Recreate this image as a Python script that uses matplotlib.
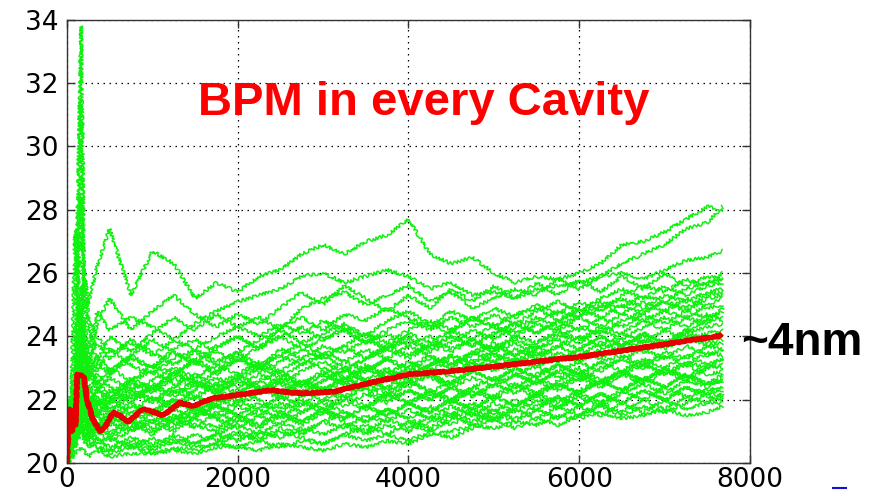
import matplotlib
matplotlib.use("Agg")
import matplotlib.pyplot as plt
from matplotlib.lines import Line2D

# turn index of each sample
turns = [0, 50, 95, 165, 200, 250, 350, 500, 750, 1000, 1250, 1500, 1750, 2000,
         2250, 2500, 2750, 3000, 3250, 3500, 3750, 4000, 4250, 4500, 4750, 5000,
         5250, 5500, 5750, 6000, 6250, 6500, 6750, 7000, 7250, 7500, 7680]

# one trace per seed
seed_01 = [20.0, 21.2, 22.6, 24.8, 26.1, 25.0, 26.2, 27.4, 25.3, 26.7, 26.3, 25.2, 25.7, 25.4, 25.9, 26.1, 26.6, 26.9, 26.6, 27.0, 27.2, 27.7, 26.6, 26.3, 26.5, 26.0, 25.7, 25.9, 25.8, 26.0, 26.3, 26.9, 27.0, 27.3, 27.7, 28.1, 28.0]
seed_02 = [20.9, 21.6, 22.0, 23.4, 24.2, 23.6, 24.8, 24.2, 24.6, 24.3, 23.9, 24.4, 24.8, 25.1, 25.3, 25.5, 25.9, 26.0, 25.7, 25.9, 26.1, 25.9, 25.5, 25.7, 25.3, 25.4, 25.2, 25.5, 25.6, 25.7, 25.9, 26.3, 26.6, 26.9, 27.4, 27.6, 28.1]
seed_03 = [20.0, 22.0, 23.5, 33.8, 26.0, 24.6, 24.0, 23.5, 23.8, 23.4, 23.9, 23.6, 24.0, 24.3, 24.6, 24.2, 24.9, 25.2, 25.4, 25.0, 25.3, 25.6, 25.1, 25.4, 24.9, 25.2, 25.5, 25.3, 25.8, 25.5, 25.9, 26.0, 25.8, 26.1, 26.4, 26.5, 26.7]
seed_04 = [20.0, 20.8, 21.9, 31.5, 25.2, 24.3, 23.2, 22.8, 23.4, 23.9, 23.5, 23.2, 23.7, 24.0, 23.6, 24.3, 24.6, 24.2, 24.7, 24.5, 24.9, 24.6, 24.3, 24.8, 24.5, 24.9, 24.6, 25.0, 24.7, 25.1, 24.8, 25.3, 25.6, 25.4, 25.8, 25.6, 26.0]
seed_05 = [20.0, 21.4, 22.3, 28.4, 24.6, 23.4, 22.9, 23.6, 23.1, 22.8, 23.3, 23.6, 23.2, 23.5, 23.9, 24.2, 23.8, 24.1, 24.4, 24.0, 24.5, 24.8, 24.4, 24.1, 24.6, 24.3, 24.7, 24.9, 24.5, 24.8, 25.1, 24.9, 25.3, 25.1, 25.5, 25.7, 25.8]
seed_06 = [21.6, 22.2, 27.4, 23.6, 22.4, 22.9, 22.5, 23.0, 22.6, 23.1, 22.8, 23.3, 22.9, 23.4, 23.0, 23.6, 23.3, 23.7, 23.5, 23.9, 23.6, 24.1, 23.8, 24.2, 23.9, 24.4, 24.1, 24.5, 24.8, 24.6, 24.9, 25.2, 24.9, 25.3, 25.1, 25.4, 25.5]
seed_07 = [20.0, 20.6, 21.3, 22.8, 24.0, 23.1, 22.4, 22.0, 22.5, 22.2, 22.7, 22.4, 22.9, 23.3, 22.9, 23.2, 23.6, 23.3, 23.7, 24.1, 23.8, 24.2, 24.5, 24.2, 24.6, 24.3, 24.0, 24.4, 24.2, 24.6, 24.3, 24.7, 24.5, 24.8, 24.6, 25.0, 25.2]
seed_08 = [21.2, 21.0, 20.8, 22.1, 23.0, 22.2, 21.8, 22.3, 21.9, 22.4, 22.8, 22.5, 22.2, 22.6, 23.0, 22.7, 23.1, 23.4, 23.0, 23.3, 23.7, 23.4, 23.8, 23.5, 23.9, 23.6, 24.0, 23.8, 24.2, 23.9, 24.3, 24.1, 24.5, 24.2, 24.6, 24.4, 24.9]
seed_09 = [20.0, 20.4, 21.7, 23.3, 22.5, 21.6, 22.1, 21.7, 22.2, 21.9, 22.3, 22.0, 22.5, 22.2, 22.6, 22.9, 22.5, 22.8, 23.2, 22.9, 23.3, 23.0, 23.4, 23.1, 23.5, 23.8, 23.4, 23.7, 23.3, 23.6, 24.0, 23.7, 24.1, 23.8, 24.2, 24.5, 24.6]
seed_10 = [20.7, 20.9, 21.5, 22.6, 21.8, 21.2, 21.7, 21.3, 21.8, 21.5, 22.0, 21.7, 22.2, 21.9, 22.4, 22.1, 22.6, 22.3, 22.7, 22.4, 22.9, 22.6, 23.0, 22.7, 23.2, 22.9, 23.3, 23.0, 23.5, 23.2, 23.6, 23.9, 23.5, 23.8, 24.1, 24.3, 24.4]
seed_11 = [20.0, 20.3, 20.9, 21.6, 22.0, 21.4, 21.0, 21.5, 21.1, 21.6, 21.3, 21.8, 21.5, 22.0, 21.7, 22.1, 21.8, 22.3, 22.0, 22.4, 22.1, 22.5, 22.8, 22.5, 22.9, 22.6, 23.0, 22.7, 23.1, 22.8, 23.2, 23.4, 23.1, 23.5, 23.3, 23.7, 23.8]
seed_12 = [20.0, 20.7, 21.2, 22.0, 21.5, 20.9, 21.3, 20.8, 21.2, 20.9, 21.4, 21.1, 21.6, 21.3, 21.7, 21.4, 21.9, 21.6, 22.0, 21.7, 22.2, 21.9, 22.3, 22.0, 22.4, 22.1, 22.5, 22.2, 22.6, 22.9, 22.5, 22.8, 23.1, 22.8, 23.2, 23.0, 23.3]
seed_13 = [20.0, 20.2, 20.6, 21.1, 21.6, 21.0, 20.6, 20.8, 20.5, 20.8, 20.6, 20.9, 20.7, 21.0, 20.8, 21.1, 20.9, 21.3, 21.1, 21.5, 21.3, 21.7, 21.4, 21.8, 21.5, 21.9, 21.6, 22.0, 21.7, 22.1, 21.8, 22.2, 22.5, 22.2, 22.6, 22.4, 22.7]
seed_14 = [20.0, 20.5, 21.0, 21.8, 22.8, 22.0, 21.5, 21.0, 21.4, 21.1, 21.5, 21.2, 21.0, 21.4, 21.1, 21.5, 21.2, 21.6, 21.3, 21.0, 21.4, 21.1, 21.5, 21.2, 21.6, 21.3, 21.7, 21.4, 21.8, 21.5, 21.9, 21.6, 22.0, 21.7, 22.1, 21.9, 22.2]
seed_15 = [20.0, 20.1, 20.3, 20.5, 20.4, 20.2, 20.4, 20.2, 20.3, 20.3, 20.4, 20.3, 20.5, 20.5, 20.4, 20.6, 20.5, 20.4, 20.6, 20.5, 20.7, 20.6, 20.9, 21.0, 21.2, 21.1, 21.3, 21.2, 21.5, 21.4, 21.6, 21.4, 21.5, 21.7, 21.5, 21.6, 21.8]
seed_16 = [20.0, 21.1, 21.8, 22.4, 21.9, 21.3, 21.0, 21.4, 21.8, 21.6, 21.2, 21.6, 22.0, 21.8, 22.2, 22.5, 22.2, 22.6, 22.9, 22.6, 22.4, 22.8, 23.1, 23.4, 23.2, 23.6, 23.9, 23.6, 24.0, 24.3, 24.1, 24.5, 24.8, 25.1, 24.9, 25.3, 25.4]
seed_17 = [20.5, 20.6, 21.4, 23.0, 22.2, 21.7, 22.3, 22.8, 23.3, 23.0, 23.6, 23.9, 23.5, 23.2, 23.7, 24.0, 23.6, 23.9, 24.3, 24.0, 23.6, 23.9, 23.5, 23.8, 24.2, 23.9, 24.3, 24.6, 24.3, 24.7, 25.0, 24.7, 25.1, 24.8, 25.2, 24.9, 25.0]
seed_18 = [20.0, 20.4, 20.9, 21.5, 21.1, 20.8, 21.2, 21.6, 21.3, 21.7, 22.0, 21.6, 21.9, 22.3, 22.0, 21.7, 22.1, 22.4, 22.1, 22.5, 22.2, 22.6, 22.3, 22.0, 22.4, 22.7, 22.4, 22.8, 23.1, 22.8, 23.2, 22.9, 23.3, 23.0, 23.4, 23.1, 23.3]
seed_19 = [20.0, 20.8, 21.6, 22.9, 22.3, 21.8, 22.4, 22.0, 22.6, 22.3, 22.9, 22.6, 22.3, 22.7, 23.1, 22.8, 22.5, 22.9, 22.6, 23.0, 22.7, 22.4, 22.8, 22.5, 22.9, 22.6, 23.0, 22.7, 22.4, 22.8, 22.5, 22.9, 22.6, 23.0, 22.7, 22.5, 22.6]
seed_20 = [20.0, 20.3, 20.7, 21.2, 20.9, 20.6, 20.5, 20.4, 20.6, 20.4, 20.7, 20.5, 20.6, 20.9, 20.7, 21.0, 20.8, 20.6, 20.9, 21.2, 20.9, 21.3, 21.0, 21.4, 21.7, 21.4, 21.8, 22.1, 21.8, 22.2, 21.9, 22.3, 22.0, 22.4, 22.1, 22.3, 22.4]
seed_21 = [21.8, 21.7, 22.1, 24.2, 23.4, 22.6, 23.2, 24.0, 23.5, 24.1, 24.6, 24.2, 24.7, 24.3, 24.0, 24.4, 24.1, 24.5, 24.2, 23.8, 24.1, 23.7, 24.0, 23.6, 23.9, 23.5, 23.8, 23.4, 23.7, 24.0, 23.7, 24.1, 23.8, 24.2, 23.9, 24.1, 24.2]
seed_22 = [20.0, 20.5, 21.1, 21.9, 21.4, 21.9, 21.5, 22.0, 21.6, 22.1, 21.8, 22.3, 22.7, 22.4, 22.8, 22.5, 22.9, 23.2, 22.9, 23.3, 23.6, 23.3, 23.7, 24.0, 23.7, 24.1, 24.4, 24.1, 24.5, 24.2, 24.6, 24.3, 24.7, 24.4, 24.8, 24.6, 24.8]
seed_23 = [20.0, 20.2, 20.5, 21.0, 20.7, 20.5, 20.8, 20.4, 20.7, 20.5, 20.8, 20.6, 20.9, 20.7, 21.0, 20.8, 21.1, 20.9, 21.2, 20.9, 21.2, 21.0, 21.3, 21.6, 21.3, 21.7, 21.4, 21.8, 22.1, 21.8, 22.2, 21.9, 22.3, 22.0, 22.4, 22.1, 22.0]
seed_24 = [20.8, 21.3, 22.0, 25.6, 23.8, 23.0, 24.4, 25.2, 24.2, 24.8, 25.3, 24.7, 24.3, 24.7, 24.4, 24.9, 25.4, 25.0, 25.6, 25.2, 24.8, 25.3, 24.9, 25.5, 25.1, 25.6, 25.2, 25.7, 25.3, 25.8, 25.4, 25.9, 25.5, 26.0, 25.6, 25.9, 25.8]
seed_25 = [20.0, 20.6, 21.0, 21.7, 22.1, 21.6, 22.0, 21.6, 22.1, 22.5, 22.2, 22.6, 22.3, 22.0, 22.4, 22.1, 22.5, 22.2, 22.6, 22.3, 22.0, 22.3, 22.0, 22.4, 22.1, 22.5, 22.8, 22.5, 22.9, 23.2, 22.9, 23.3, 23.6, 23.3, 23.7, 23.4, 23.6]
seed_26 = [20.0, 20.3, 20.8, 21.3, 21.0, 21.4, 21.0, 21.3, 21.0, 21.4, 21.1, 21.5, 21.8, 21.5, 21.9, 21.6, 22.0, 21.7, 22.1, 21.8, 22.2, 21.9, 21.6, 22.0, 21.7, 22.1, 21.8, 22.2, 21.9, 22.3, 22.6, 22.3, 22.7, 22.4, 22.8, 22.5, 22.8]
seed_27 = [20.0, 20.9, 21.3, 22.2, 21.7, 22.1, 21.7, 22.2, 22.7, 22.3, 22.8, 23.2, 22.8, 23.3, 23.0, 23.4, 23.1, 23.5, 23.2, 23.6, 23.3, 23.7, 23.4, 23.1, 23.5, 23.2, 23.6, 23.3, 23.7, 23.4, 23.8, 23.5, 23.9, 23.6, 24.0, 23.7, 23.6]
seed_28 = [20.0, 20.4, 20.8, 21.4, 21.0, 20.7, 21.0, 20.7, 21.0, 21.3, 21.0, 21.4, 21.1, 21.5, 21.2, 21.6, 21.3, 21.7, 21.4, 21.8, 21.5, 21.9, 22.2, 21.9, 22.3, 22.0, 22.4, 22.1, 22.5, 22.2, 22.6, 22.9, 22.6, 23.0, 22.7, 23.1, 23.0]
seed_29 = [21.3, 21.0, 21.9, 23.8, 22.9, 22.2, 22.8, 22.4, 22.0, 22.4, 22.1, 22.5, 22.2, 22.6, 22.3, 22.7, 22.4, 22.8, 22.5, 22.9, 23.3, 22.9, 23.3, 23.0, 23.4, 23.7, 23.4, 23.8, 24.1, 23.8, 24.2, 23.9, 24.3, 24.6, 24.3, 24.7, 24.5]
seed_30 = [20.0, 20.2, 20.6, 21.2, 20.8, 21.2, 20.8, 20.5, 20.8, 20.6, 20.9, 20.6, 20.9, 21.2, 20.9, 21.3, 21.0, 21.3, 21.6, 21.3, 21.7, 21.4, 21.8, 21.5, 21.9, 21.6, 22.0, 21.7, 22.1, 21.8, 22.2, 21.9, 22.3, 22.0, 22.4, 22.2, 22.3]
seed_31 = [20.6, 21.5, 22.4, 23.6, 22.8, 23.3, 22.6, 22.1, 22.6, 22.9, 22.5, 22.1, 22.5, 22.8, 22.4, 22.0, 22.3, 22.0, 22.4, 22.7, 22.3, 22.6, 22.2, 22.6, 22.9, 23.2, 22.8, 23.1, 22.7, 23.0, 22.6, 22.9, 23.2, 22.8, 23.1, 22.8, 22.9]
seed_32 = [21.2, 21.8, 21.3, 22.5, 21.9, 22.5, 21.9, 21.5, 21.9, 21.6, 22.0, 21.7, 21.4, 21.8, 21.5, 21.9, 21.6, 22.0, 21.8, 22.2, 21.9, 22.3, 22.0, 22.4, 22.1, 22.5, 22.2, 22.6, 22.3, 22.7, 22.4, 22.8, 22.5, 22.9, 22.6, 23.0, 23.1]
seed_33 = [20.3, 20.9, 21.6, 22.2, 21.6, 22.0, 21.5, 21.9, 22.3, 22.0, 22.4, 22.8, 22.4, 22.7, 22.3, 22.6, 22.2, 22.6, 23.0, 22.6, 23.0, 22.7, 23.1, 23.4, 23.1, 23.5, 23.2, 23.6, 23.9, 23.6, 24.0, 23.7, 24.1, 23.8, 24.2, 23.9, 24.0]
seed_34 = [21.5, 22.1, 21.6, 23.1, 22.4, 22.9, 22.3, 22.7, 22.3, 22.6, 23.0, 22.7, 23.1, 23.5, 23.1, 23.4, 23.8, 23.4, 23.7, 23.3, 23.7, 24.0, 23.6, 24.0, 23.7, 24.1, 24.4, 24.1, 24.5, 24.9, 24.6, 25.0, 24.7, 25.1, 24.8, 25.2, 25.3]
seed_35 = [20.1, 20.4, 20.9, 21.4, 21.0, 20.7, 20.5, 20.3, 20.5, 20.3, 20.5, 20.4, 20.6, 20.5, 20.7, 20.5, 20.7, 20.6, 20.9, 20.7, 20.9, 20.7, 21.0, 20.8, 21.1, 21.4, 21.1, 21.4, 21.2, 21.5, 21.8, 21.5, 21.8, 21.6, 21.9, 22.2, 22.1]
seed_36 = [20.8, 21.9, 22.7, 24.6, 23.5, 22.8, 23.4, 22.9, 23.4, 23.0, 23.5, 23.1, 23.6, 24.0, 23.6, 24.0, 24.3, 23.9, 24.2, 23.8, 24.2, 24.5, 24.2, 24.6, 24.3, 24.7, 24.4, 24.8, 25.1, 24.8, 25.2, 25.5, 25.2, 25.6, 25.3, 25.6, 25.7]
seed_37 = [20.4, 21.0, 21.4, 22.0, 21.6, 21.1, 21.5, 21.2, 21.6, 21.3, 21.7, 21.4, 21.8, 21.5, 21.2, 21.6, 21.3, 21.7, 21.4, 21.8, 21.5, 21.9, 21.6, 22.0, 21.7, 22.1, 21.8, 22.2, 22.5, 22.2, 22.6, 22.3, 22.7, 22.4, 22.8, 22.5, 22.6]
seed_38 = [21.0, 21.4, 22.0, 22.7, 22.2, 21.8, 22.3, 21.9, 22.4, 22.0, 21.7, 22.1, 21.8, 22.2, 22.6, 22.2, 22.6, 22.3, 22.7, 23.0, 22.7, 23.0, 22.7, 22.4, 22.7, 22.4, 22.8, 22.5, 22.9, 22.6, 23.0, 23.3, 23.0, 23.4, 23.1, 23.5, 23.4]
seed_39 = [20.2, 20.6, 21.1, 21.6, 21.2, 20.9, 21.2, 20.9, 21.3, 21.0, 21.4, 21.7, 21.4, 21.1, 21.5, 21.2, 21.6, 21.9, 21.6, 21.3, 21.7, 21.4, 21.1, 21.5, 21.2, 21.6, 21.3, 21.7, 21.4, 21.8, 21.5, 21.9, 21.6, 22.0, 21.7, 21.9, 21.9]
seed_40 = [20.7, 21.3, 22.2, 23.0, 22.6, 23.2, 23.8, 23.3, 23.9, 23.5, 23.1, 23.5, 23.1, 22.8, 23.2, 22.9, 23.3, 23.0, 22.7, 23.1, 22.8, 23.2, 22.9, 23.3, 23.0, 23.4, 23.1, 23.5, 23.2, 23.6, 23.3, 23.7, 24.0, 23.7, 24.1, 23.8, 23.9]

seeds = [seed_01, seed_02, seed_03, seed_04, seed_05, seed_06, seed_07, seed_08,
         seed_09, seed_10, seed_11, seed_12, seed_13, seed_14, seed_15, seed_16,
         seed_17, seed_18, seed_19, seed_20, seed_21, seed_22, seed_23, seed_24,
         seed_25, seed_26, seed_27, seed_28, seed_29, seed_30, seed_31, seed_32,
         seed_33, seed_34, seed_35, seed_36, seed_37, seed_38, seed_39, seed_40]

# average over all seeds
avg_turns = [0, 30, 60, 90, 100, 120, 150, 200, 235, 300, 390, 460, 540, 620, 715,
             800, 890, 1030, 1125, 1320, 1475, 1710, 2000, 2380, 2730, 3124, 3500,
             4000, 4500, 5000, 5500, 6000, 6500, 7000, 7300, 7650]
avg_size = [20.0, 21.7, 21.0, 21.7, 21.2, 22.8, 22.8, 22.7, 22.0, 21.4, 21.0, 21.2,
            21.6, 21.5, 21.3, 21.5, 21.7, 21.6, 21.5, 21.9, 21.8, 22.05, 22.15, 22.3,
            22.2, 22.25, 22.5, 22.8, 22.9, 23.05, 23.2, 23.35, 23.55, 23.75, 23.88, 24.02]

fig = plt.figure(figsize=(8.79, 4.96), dpi=100)
ax = fig.add_axes([0.0762, 0.0665, 0.7770, 0.8935])

# rough, noisy look for the per-seed traces
for s in seeds:
    ln, = ax.plot(turns, s, color='#10f010', lw=1.1)
    ln.set_sketch_params(scale=1.6, length=3, randomness=5)
avg_ln, = ax.plot(avg_turns, avg_size, color='#e60000', lw=3.8)
avg_ln.set_sketch_params(scale=0.6, length=4, randomness=3)

ax.set_xlim(0, 8000)
ax.set_ylim(20, 34)
ax.set_xticks([0, 2000, 4000, 6000, 8000])
ax.set_yticks([20, 22, 24, 26, 28, 30, 32, 34])
ax.tick_params(direction='in', length=6, width=1, top=True, right=True,
               labelsize=19, color='#333333')
ax.tick_params(axis='y', pad=6)
ax.tick_params(axis='x', pad=3)
ax.grid(True, color='black', lw=0.9, linestyle=(0, (1.2, 3.6)))
for sp in ax.spines.values():
    sp.set_color('#333333')
    sp.set_linewidth(1.0)

fig.text(0.225, 0.768, 'BPM in every Cavity', color='#ff0000', fontsize=34,
         fontweight='bold', family='Liberation Sans', ha='left', va='baseline')
fig.text(0.843, 0.284, '~4nm', color='black', fontsize=33,
         fontweight='bold', family='Liberation Sans', ha='left', va='baseline')
fig.add_artist(Line2D([0.948, 0.963], [0.016, 0.016], color='#1010d0', lw=1.5))

fig.savefig('out.png', dpi=100)
